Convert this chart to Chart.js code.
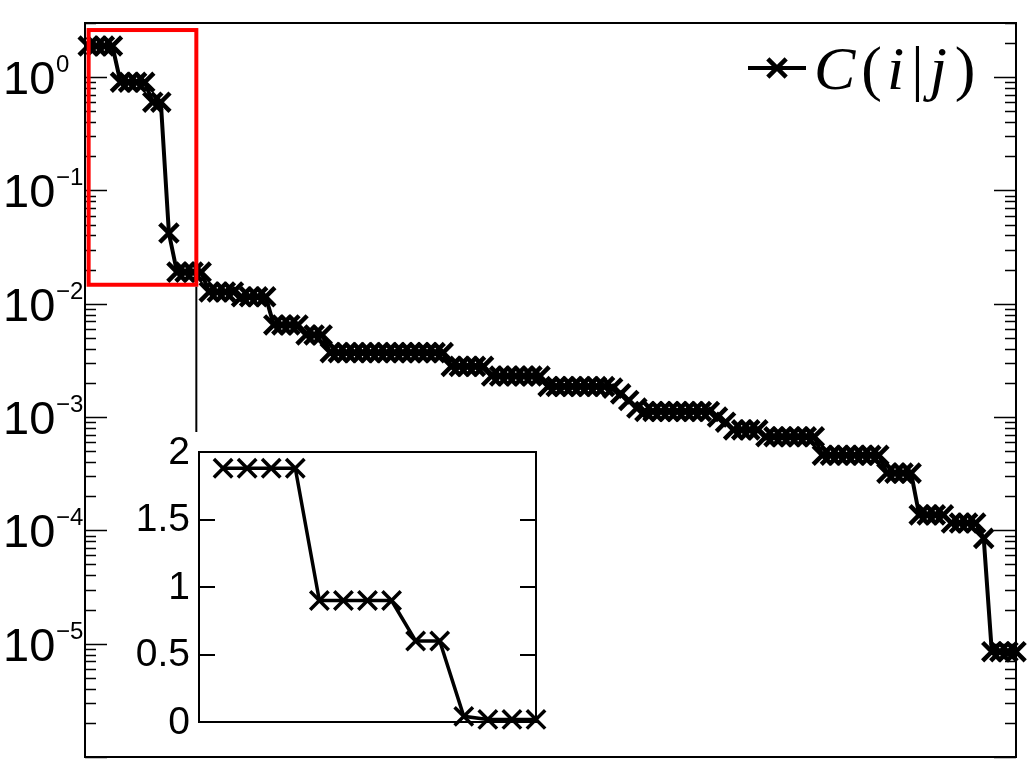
<!DOCTYPE html>
<html>
<head>
<meta charset="utf-8">
<script src="https://cdn.jsdelivr.net/npm/chart.js@4.4.1/dist/chart.umd.min.js"></script>
<style>
  html, body { margin: 0; padding: 0; background: #fff; }
  #wrap { position: relative; width: 1036px; height: 775px; }
  #main { position: absolute; left: 0; top: 0; }
  #inset { position: absolute; left: 130px; top: 430px; }
</style>
</head>
<body>
<div id="wrap">
  <canvas id="main" width="1036" height="775"></canvas>
  <canvas id="inset" width="420" height="320"></canvas>
</div>
<script>
// --- données ---

// C(i|j) triés par ordre décroissant (index 1..116)
const cij = [
  1.88, 1.88, 1.88, 1.88,
  0.9, 0.9, 0.9, 0.9,
  0.6, 0.6,
  0.042,
  0.019, 0.019, 0.019, 0.019,
  0.0127, 0.0127, 0.0127, 0.0127,
  0.0115, 0.0115, 0.0115, 0.0115,
  0.0065, 0.0065, 0.0065, 0.0065,
  0.0053, 0.0053, 0.0053,
  0.0037, 0.0037, 0.0037, 0.0037, 0.0037, 0.0037, 0.0037, 0.0037,
  0.0037, 0.0037, 0.0037, 0.0037, 0.0037, 0.0037, 0.0037,
  0.0028, 0.0028, 0.0028, 0.0028, 0.0028,
  0.0023, 0.0023, 0.0023, 0.0023, 0.0023, 0.0023, 0.0023,
  0.00186, 0.00186, 0.00186, 0.00186, 0.00186, 0.00186, 0.00186, 0.00186,
  0.0018, 0.0016, 0.0014, 0.0012,
  0.00112, 0.00112, 0.00112, 0.00112, 0.00112, 0.00112, 0.00112, 0.00112, 0.00112,
  0.001, 0.0009,
  0.00077, 0.00077, 0.00077, 0.00077,
  0.00067, 0.00067, 0.00067, 0.00067, 0.00067, 0.00067, 0.00067,
  0.00046, 0.00046, 0.00046, 0.00046, 0.00046, 0.00046, 0.00046, 0.00046,
  0.00032, 0.00032, 0.00032, 0.00032,
  0.000137, 0.000137, 0.000137, 0.000137,
  0.000116, 0.000116, 0.000116, 0.000116,
  0.000085,
  0.0000085, 0.0000085, 0.0000085, 0.0000085
];

// l'encart reprend les 14 premiers points en échelle linéaire
const insetCount = 14;
const insetValues = cij.slice(0, insetCount);

// graduations
const yDecades = [0, -1, -2, -3, -4, -5];
const insetTicks = [0, 0.5, 1, 1.5, 2];

// zone zoomée (rectangle rouge), en coordonnées de données
const zoomX = [1.05, 14.4];
const zoomY = [0.0147, 2.6];

const SANS = '"Liberation Sans", Arial, Helvetica, sans-serif';
const SERIF = '"Liberation Serif", "Times New Roman", serif';

// --- plugins de dessin ---

/** Cadre, graduations log (majeures + mineures) et libellés 10^n. */
const logFrame = {
  id: 'logFrame',
  beforeDatasetsDraw(chart) {
    const { ctx, chartArea: a, scales: { y } } = chart;
    ctx.save();
    ctx.strokeStyle = '#000';
    ctx.lineWidth = 1.5;
    for (let e = -6; e <= 0; e++) {
      for (let m = 1; m <= 9; m++) {
        const v = m * Math.pow(10, e);
        if (v < y.min || v > y.max) continue;
        const py = Math.round(y.getPixelForValue(v)) + 0.5;
        const len = m === 1 ? 22 : 11;
        ctx.beginPath();
        ctx.moveTo(a.left, py); ctx.lineTo(a.left + len, py);
        ctx.moveTo(a.right, py); ctx.lineTo(a.right - len, py);
        ctx.stroke();
      }
    }
    ctx.lineWidth = 2;
    ctx.strokeRect(a.left, a.top, a.right - a.left, a.bottom - a.top);
    ctx.restore();
  },
  afterDraw(chart) {
    const { ctx, scales: { y } } = chart;
    ctx.save();
    ctx.fillStyle = '#000';
    ctx.textAlign = 'left';
    ctx.textBaseline = 'alphabetic';
    yDecades.forEach(e => {
      const py = y.getPixelForValue(Math.pow(10, e));
      ctx.font = '47px ' + SANS;
      ctx.fillText('10', 3, py + 17);
      ctx.font = '24px ' + SANS;
      ctx.fillText(e === 0 ? '0' : '\u2212' + (-e), 56, py - 5);
    });
    ctx.restore();
  }
};

/** Rectangle rouge + trait vers l'encart. */
const zoomBox = {
  id: 'zoomBox',
  afterDatasetsDraw(chart) {
    const { ctx, scales: { x, y } } = chart;
    const x0 = x.getPixelForValue(zoomX[0]), x1 = x.getPixelForValue(zoomX[1]);
    const y0 = y.getPixelForValue(zoomY[1]), y1 = y.getPixelForValue(zoomY[0]);
    ctx.save();
    ctx.strokeStyle = '#ff0000';
    ctx.lineWidth = 4;
    ctx.strokeRect(x0, y0, x1 - x0, y1 - y0);
    ctx.strokeStyle = '#000';
    ctx.lineWidth = 2;
    ctx.beginPath();
    ctx.moveTo(x1, y1 + 2);
    ctx.lineTo(x1, 432);
    ctx.stroke();
    ctx.restore();
  }
};

/** Légende façon LaTeX : —×— C(i|j) */
const texLegend = {
  id: 'texLegend',
  afterDraw(chart) {
    const { ctx } = chart;
    const ds = chart.data.datasets[0];
    const ly = 68;
    ctx.save();
    ctx.strokeStyle = '#000';
    ctx.lineWidth = ds.borderWidth;
    ctx.beginPath();
    ctx.moveTo(748, ly); ctx.lineTo(806, ly);
    ctx.stroke();
    ctx.lineWidth = ds.pointBorderWidth;
    Chart.helpers.drawPoint(ctx, { pointStyle: 'crossRot', radius: ds.pointRadius, rotation: 0, borderWidth: ds.pointBorderWidth }, 777, ly);
    const parts = [['C', true], ['(', false], ['i', true], ['|', false], ['j', true], [')', false]];
    const gaps = [6, 5, 7, 6, 8, 0];
    ctx.fillStyle = '#000';
    ctx.textBaseline = 'alphabetic';
    let px = 814;
    parts.forEach(([t, it], k) => {
      ctx.font = (it ? 'italic ' : '') + '62px ' + SERIF;
      ctx.fillText(t, px, ly + 21);
      px += ctx.measureText(t).width + gaps[k];
    });
    ctx.restore();
  }
};

/** Encart : fond blanc, cadre, graduations linéaires. */
const insetFrame = {
  id: 'insetFrame',
  beforeDraw(chart) {
    const { ctx, chartArea: a } = chart;
    ctx.save();
    ctx.fillStyle = '#fff';
    ctx.fillRect(a.left, a.top, a.right - a.left, a.bottom - a.top);
    ctx.restore();
  },
  beforeDatasetsDraw(chart) {
    const { ctx, chartArea: a, scales: { y } } = chart;
    ctx.save();
    ctx.strokeStyle = '#000';
    ctx.lineWidth = 2;
    insetTicks.forEach(v => {
      const py = Math.round(y.getPixelForValue(v));
      ctx.beginPath();
      ctx.moveTo(a.left, py); ctx.lineTo(a.left + 16, py);
      ctx.moveTo(a.right, py); ctx.lineTo(a.right - 16, py);
      ctx.stroke();
    });
    ctx.strokeRect(a.left, a.top, a.right - a.left, a.bottom - a.top);
    ctx.fillStyle = '#000';
    ctx.font = '39px ' + SANS;
    ctx.textAlign = 'right';
    ctx.textBaseline = 'middle';
    insetTicks.forEach(v => {
      ctx.fillText(String(v), a.left - 9, y.getPixelForValue(v) + 1);
    });
    ctx.restore();
  }
};

// --- graphiques ---

new Chart(document.getElementById('main'), {
  type: 'line',
  data: {
    datasets: [{
      label: 'C(i|j)',
      data: cij.map((v, k) => ({ x: k + 1, y: v })),
      borderColor: '#000',
      backgroundColor: '#000',
      borderWidth: 4,
      pointStyle: 'crossRot',
      pointRadius: 13,
      pointBorderWidth: 4.5,
      pointBorderColor: '#000',
      tension: 0,
      fill: false,
      clip: false
    }]
  },
  options: {
    responsive: false,
    animation: false,
    events: [],
    layout: { autoPadding: false, padding: { left: 85, right: 20, top: 23, bottom: 18 } },
    plugins: { legend: { display: false }, tooltip: { enabled: false } },
    scales: {
      x: { type: 'linear', min: 0.6, max: cij.length, display: false },
      y: { type: 'logarithmic', min: 1e-6, max: 3, display: false }
    }
  },
  plugins: [logFrame, zoomBox, texLegend]
});

new Chart(document.getElementById('inset'), {
  type: 'line',
  data: {
    datasets: [{
      data: insetValues.map((v, k) => ({ x: k + 1, y: v })),
      borderColor: '#000',
      borderWidth: 3.5,
      pointStyle: 'crossRot',
      pointRadius: 13,
      pointBorderWidth: 3.5,
      pointBorderColor: '#000',
      tension: 0,
      fill: false,
      clip: false
    }]
  },
  options: {
    responsive: false,
    animation: false,
    events: [],
    layout: { autoPadding: false, padding: { left: 69, right: 14, top: 22, bottom: 28 } },
    plugins: { legend: { display: false }, tooltip: { enabled: false } },
    scales: {
      x: { type: 'linear', min: 0, max: insetCount, display: false },
      y: { type: 'linear', min: 0, max: 2, display: false }
    }
  },
  plugins: [insetFrame]
});
</script>
</body>
</html>
